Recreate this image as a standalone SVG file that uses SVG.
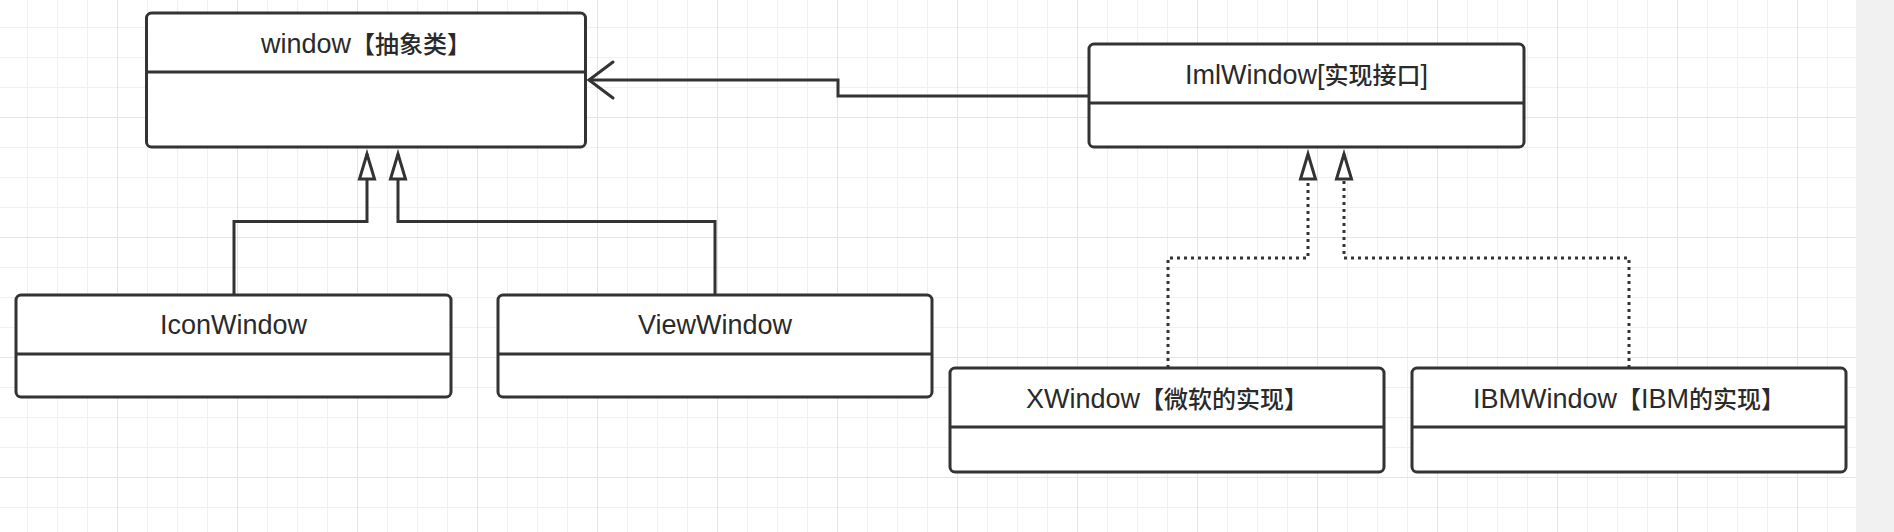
<svg xmlns="http://www.w3.org/2000/svg" width="1894" height="532" viewBox="0 0 1894 532">
  <style>
    .box { fill: #ffffff; stroke: #333333; stroke-width: 3; }
    .div { stroke: #333333; stroke-width: 3; }
    .lbl { font-family: "Liberation Sans", "Noto Sans CJK SC", sans-serif; font-size: 27px; fill: #2a2a2a; text-anchor: middle; }
    .cjk { font-family: "Noto Sans CJK SC", "Liberation Sans", sans-serif; font-size: 24px; font-weight: 500; }
    .edge { fill: none; stroke: #333333; stroke-width: 3; }
    .dot { stroke-dasharray: 3 4; }
  </style>
  <defs>
    <pattern id="grid" patternUnits="userSpaceOnUse" x="117" y="117" width="120" height="120">
      <path d="M30.5,0V120M60.5,0V120M90.5,0V120M0,30.5H120M0,60.5H120M0,90.5H120" stroke="#f0f0f0" stroke-width="1" fill="none"/>
      <path d="M0.5,0V120M0,0.5H120" stroke="#e4e4e4" stroke-width="1" fill="none"/>
    </pattern>
    <marker id="tri" markerUnits="userSpaceOnUse" orient="auto" markerWidth="30" markerHeight="22" refX="25" refY="9" overflow="visible">
      <path d="M25,9 L0,1.5 L0,16.5 Z" fill="#ffffff" stroke="#333333" stroke-width="3" stroke-linejoin="miter"/>
    </marker>
    <marker id="open" markerUnits="userSpaceOnUse" orient="auto" markerWidth="30" markerHeight="40" refX="24" refY="18" overflow="visible">
      <path d="M0,0 L24,18 L0,36" fill="none" stroke="#333333" stroke-width="3" stroke-linecap="round"/>
    </marker>
  </defs>

  <rect x="0" y="0" width="1894" height="532" fill="#ffffff"/>
  <rect x="0" y="0" width="1856" height="532" fill="url(#grid)"/>
  <rect x="1856" y="0" width="38" height="532" fill="#f1f1f1"/>

  <g id="connectors">
    <path class="edge" d="M1089,96 H838 V80 H589" marker-end="url(#open)"/>
    <path class="edge" d="M234,295 V221.5 H367 V154" marker-end="url(#tri)"/>
    <path class="edge" d="M715,295 V221.5 H398 V154" marker-end="url(#tri)"/>
    <path class="edge dot" d="M1168,368 V258 H1308 V154" marker-end="url(#tri)"/>
    <path class="edge dot" d="M1629,368 V258 H1344 V154" marker-end="url(#tri)"/>
  </g>

  <g id="window">
    <rect class="box" x="146.5" y="13" width="439" height="134" rx="5"/>
    <line class="div" x1="146.5" y1="72" x2="585.5" y2="72"/>
    <text class="lbl" x="366" y="53">window<tspan class="cjk">【抽象类】</tspan></text>
  </g>

  <g id="ImlWindow">
    <rect class="box" x="1089" y="44" width="435" height="103" rx="5"/>
    <line class="div" x1="1089" y1="103" x2="1524" y2="103"/>
    <text class="lbl" x="1306.5" y="84">ImlWindow[<tspan class="cjk">实现接口</tspan>]</text>
  </g>

  <g id="IconWindow">
    <rect class="box" x="16" y="295" width="435" height="102" rx="5"/>
    <line class="div" x1="16" y1="354" x2="451" y2="354"/>
    <text class="lbl" x="233.5" y="334">IconWindow</text>
  </g>

  <g id="ViewWindow">
    <rect class="box" x="498" y="295" width="434" height="102" rx="5"/>
    <line class="div" x1="498" y1="354" x2="932" y2="354"/>
    <text class="lbl" x="715" y="334">ViewWindow</text>
  </g>

  <g id="XWindow">
    <rect class="box" x="950" y="368" width="434" height="104" rx="5"/>
    <line class="div" x1="950" y1="427" x2="1384" y2="427"/>
    <text class="lbl" x="1167" y="408">XWindow<tspan class="cjk">【微软的实现】</tspan></text>
  </g>

  <g id="IBMWindow">
    <rect class="box" x="1412" y="368" width="434" height="104" rx="5"/>
    <line class="div" x1="1412" y1="427" x2="1846" y2="427"/>
    <text class="lbl" x="1629" y="408">IBMWindow<tspan class="cjk">【</tspan>IBM<tspan class="cjk">的实现】</tspan></text>
  </g>
</svg>
